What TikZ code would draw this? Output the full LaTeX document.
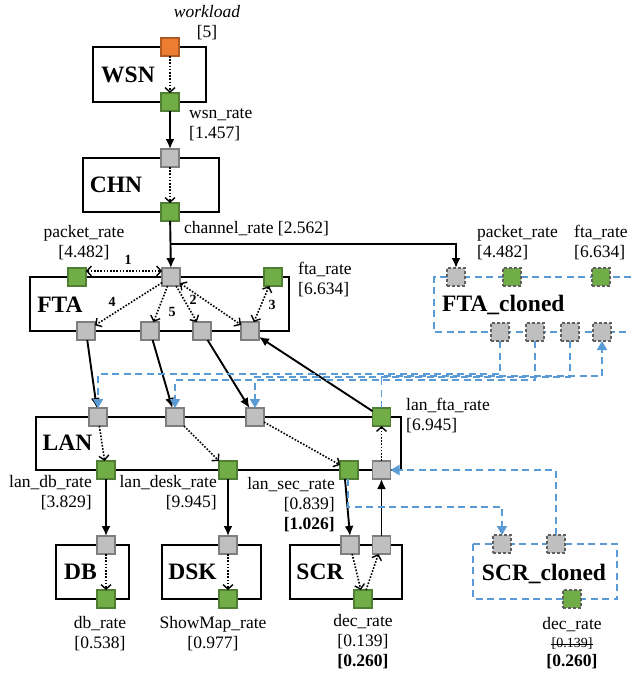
\documentclass[tikz,border=0pt]{standalone}
\usepackage{fontspec}
\setmainfont{Liberation Serif}
\usetikzlibrary{arrows.meta}
\definecolor{sqgray}{HTML}{BFBFBF}
\definecolor{sqgrayd}{HTML}{7F7F7F}
\definecolor{sqgreen}{HTML}{70AD47}
\definecolor{sqgreend}{HTML}{507E32}
\definecolor{sqorange}{HTML}{ED7D31}
\definecolor{sqoranged}{HTML}{AE5A21}
\definecolor{cblue}{HTML}{5B9BD5}
\definecolor{dgray}{HTML}{606060}
\tikzset{
 box/.style={draw=black,line width=2.2pt},
 cbox/.style={draw=cblue,line width=2pt,dash pattern=on 7pt off 4.5pt},
 sqbase/.style={minimum size=18pt,inner sep=0pt,outer sep=0pt,line width=1.3pt},
 gsq/.style={sqbase,fill=sqgray,draw=sqgrayd},
 grsq/.style={sqbase,fill=sqgreen,draw=sqgreend},
 orsq/.style={sqbase,fill=sqorange,draw=sqoranged},
 gsqc/.style={sqbase,fill=sqgray,draw=dgray,dash pattern=on 3pt off 2pt},
 grsqc/.style={sqbase,fill=sqgreen,draw=dgray,dash pattern=on 3pt off 2pt},
 lbl/.style={inner sep=0pt,font=\fontsize{17.5}{20}\selectfont},
 ttl/.style={inner sep=0pt,font=\fontsize{23.5}{26}\selectfont\bfseries},
 num/.style={inner sep=0pt,font=\fontsize{14}{16}\selectfont\bfseries},
 sarr/.style={line width=1.9pt,-{Latex[length=10pt,width=9pt]}},
 darr/.style={line width=1.6pt,dash pattern=on 1.6pt off 1.6pt,-{Straight Barb[length=4.5pt,width=10pt,line width=1.4pt]}},
 ddarr/.style={line width=1.6pt,dash pattern=on 1.6pt off 1.6pt,{Straight Barb[length=4.5pt,width=10pt,line width=1.4pt]}-{Straight Barb[length=4.5pt,width=10pt,line width=1.4pt]}},
 barr/.style={draw=cblue,line width=1.9pt,dash pattern=on 7pt off 4.5pt,-{Triangle[length=9pt,width=10pt]}},
}
\begin{document}
\begin{tikzpicture}[x=1pt,y=-1pt]
\fill[white] (0,0) rectangle (631,677);
\useasboundingbox (0,0) rectangle (631,677);

% boxes
\draw[box] (93,47) rectangle (206,102);
\draw[box] (83,158) rectangle (219,212);
\draw[box] (30,277) rectangle (289,331);
\draw[box] (36,417) rectangle (401,470);
\draw[box] (56,545) rectangle (129,599);
\draw[box] (162,545) rectangle (261,599);
\draw[box] (290,545) rectangle (402,599);
\draw[cbox] (631,277) -- (434,277) -- (434,332) -- (631,332);
\draw[cbox] (473,544) rectangle (617,599);

% titles
\node[ttl] (wsnt) at (128,75) {WSN};
\node[ttl] (chnt) at (116,185) {CHN};
\node[ttl] (ftat) at (60,305) {FTA};
\node[ttl] (lant) at (67.5,443) {LAN};
\node[ttl] (dbt) at (80.5,572) {DB};
\node[ttl] (dskt) at (192.5,572) {DSK};
\node[ttl] (scrt) at (320,572) {SCR};
\node[ttl,anchor=base west] (ftact) at (442,311) {FTA\_cloned};
\node[ttl,anchor=base] (scrct) at (544,580) {SCR\_cloned};

% squares
\node[orsq] (wl) at (170,47) {};
\node[grsq] (wg) at (170,102) {};
\node[gsq] (cg) at (170,158) {};
\node[grsq] (cgr) at (170,212) {};
\node[grsq] (pk) at (77,277) {};
\node[gsq] (ft) at (171,277) {};
\node[grsq] (fr) at (273,277) {};
\node[gsq] (f1) at (86,331) {};
\node[gsq] (f2) at (150,331) {};
\node[gsq] (f3) at (202,331) {};
\node[gsq] (f4) at (250,331) {};
\node[gsq] (l1) at (98,417) {};
\node[gsq] (l2) at (175,417) {};
\node[gsq] (l3) at (255,417) {};
\node[grsq] (lf) at (381.5,417) {};
\node[grsq] (b1) at (106,470) {};
\node[grsq] (b2) at (228,470) {};
\node[grsq] (b3) at (349,470) {};
\node[gsq] (b4) at (381.5,470) {};
\node[gsq] (dg) at (106,545) {};
\node[grsq] (dgr) at (106,599) {};
\node[gsq] (kg) at (228,545) {};
\node[grsq] (kgr) at (228,599) {};
\node[gsq] (s1) at (350,545) {};
\node[gsq] (s2) at (381.5,545) {};
\node[grsq] (sg) at (363,599) {};
\node[gsqc] (c0) at (456,277) {};
\node[grsqc] (cp) at (512,277) {};
\node[grsqc] (cf) at (601,277) {};
\node[gsqc] (c1) at (500,332) {};
\node[gsqc] (c2) at (535,332) {};
\node[gsqc] (c3) at (570,332) {};
\node[gsqc] (c4) at (602,332) {};
\node[gsqc] (sc1) at (502,544) {};
\node[gsqc] (sc2) at (556,544) {};
\node[grsqc] (scg) at (572,599) {};

% labels
\node[lbl,align=center] (wlt) at (207,22.5) {\textit{workload}\\{}[5]};
\node[lbl,align=left,anchor=west] (wsr) at (189,124.5) {wsn\_rate\\{}[1.457]};
\node[lbl,anchor=west] (chr) at (184,229) {channel\_rate [2.562]};
\node[lbl,align=center] (pkr) at (84,242.5) {packet\_rate\\{}[4.482]};
\node[lbl,align=left,anchor=west] (ftr) at (298,280) {fta\_rate\\{}[6.634]};
\node[lbl,align=left,anchor=west] (cpr) at (477,242.5) {packet\_rate\\{}[4.482]};
\node[lbl,align=left,anchor=west] (cfr) at (574,242.5) {fta\_rate\\{}[6.634]};
\node[lbl,align=left,anchor=west] (lfr) at (406,416) {lan\_fta\_rate\\{}[6.945]};
\node[lbl,align=right,anchor=east] (ldr) at (92,493) {lan\_db\_rate\\{}[3.829]};
\node[lbl,align=right,anchor=east] (lkr) at (217,493) {lan\_desk\_rate\\{}[9.945]};
\node[lbl,align=right,anchor=east] (lsr) at (335,505) {lan\_sec\_rate\\{}[0.839]\\\textbf{[1.026]}};
\node[lbl,align=center] (dbr) at (100,634) {db\_rate\\{}[0.538]};
\node[lbl,align=center] (smr) at (213,634) {ShowMap\_rate\\{}[0.977]};
\node[lbl,align=center] (dcr) at (363,642) {dec\_rate\\{}[0.139]\\\textbf{[0.260]}};
\node[lbl] (cdr) at (572,625) {dec\_rate};
\node[inner sep=0pt,font=\fontsize{14}{16}\selectfont] (cdo) at (572,644) {[0.139]};
\draw[line width=0.8pt] (cdo.west) -- (cdo.east);
\node[lbl,font=\fontsize{17.5}{20}\selectfont\bfseries] (cdn) at (572,662) {[0.260]};

\node[num] (n1) at (128,260) {1};
\node[num] (n4) at (112,302) {4};
\node[num] (n5) at (172,312) {5};
\node[num] (n2) at (193,300) {2};
\node[num] (n3) at (272,305) {3};

% connectors
\draw[darr] (wl) -- (wg);
\draw[sarr] (wg) -- (cg);
\draw[darr] (cg) -- (cgr);
\draw[sarr] (cgr) -- (ft);
\coordinate (br) at (170,244);
\draw[sarr] (br) -| (c0.north);
\draw[ddarr] ([yshift=6pt]pk.east) -- ([yshift=6pt]ft.west);
\draw[darr] (ft) -- (f1);
\draw[darr] (ft) -- (f2);
\draw[darr] (ft) -- (f3);
\draw[ddarr] (ft) -- (f4);
\draw[ddarr] (fr) -- (f4);
\draw[sarr] (f1) -- (l1);
\draw[sarr] (f2) -- (l2);
\draw[sarr] (f3) -- (l3);
\draw[sarr] (lf) -- (f4);
\draw[darr] (l1) -- (b1);
\draw[darr] (l2) -- (b2);
\draw[darr] (l3) -- (b3);
\draw[darr] (b4) -- (lf);
\draw[sarr] (b1) -- (dg);
\draw[sarr] (b2) -- (kg);
\draw[sarr] ([xshift=-4pt]b3.south) -- (s1.north);
\draw[sarr] (s2) -- (b4);
\draw[darr] (dg) -- (dgr);
\draw[darr] (kg) -- (kgr);
\draw[darr] (s1) -- (sg);
\draw[darr] (sg) -- (s2);

\coordinate (r1) at (98,374);
\coordinate (r2) at (175,380);
\coordinate (r3) at (255,377);
\coordinate (r4) at (381.5,376);
\coordinate (r5) at (348,507);
\draw[barr] (c1.south) |- (r1) -- (l1.north);
\draw[barr] (c2.south) |- (r2) -- (l2.north);
\draw[barr] (c3.south) |- (r3) -- (l3.north);
\draw[barr] (lf.north) -- (r4) -| (c4.south);
\draw[barr] ([xshift=-1pt]b3.south) -- (r5) -| (sc1.north);
\draw[barr] (sc2.north) |- (b4.east);
\end{tikzpicture}
\end{document}
